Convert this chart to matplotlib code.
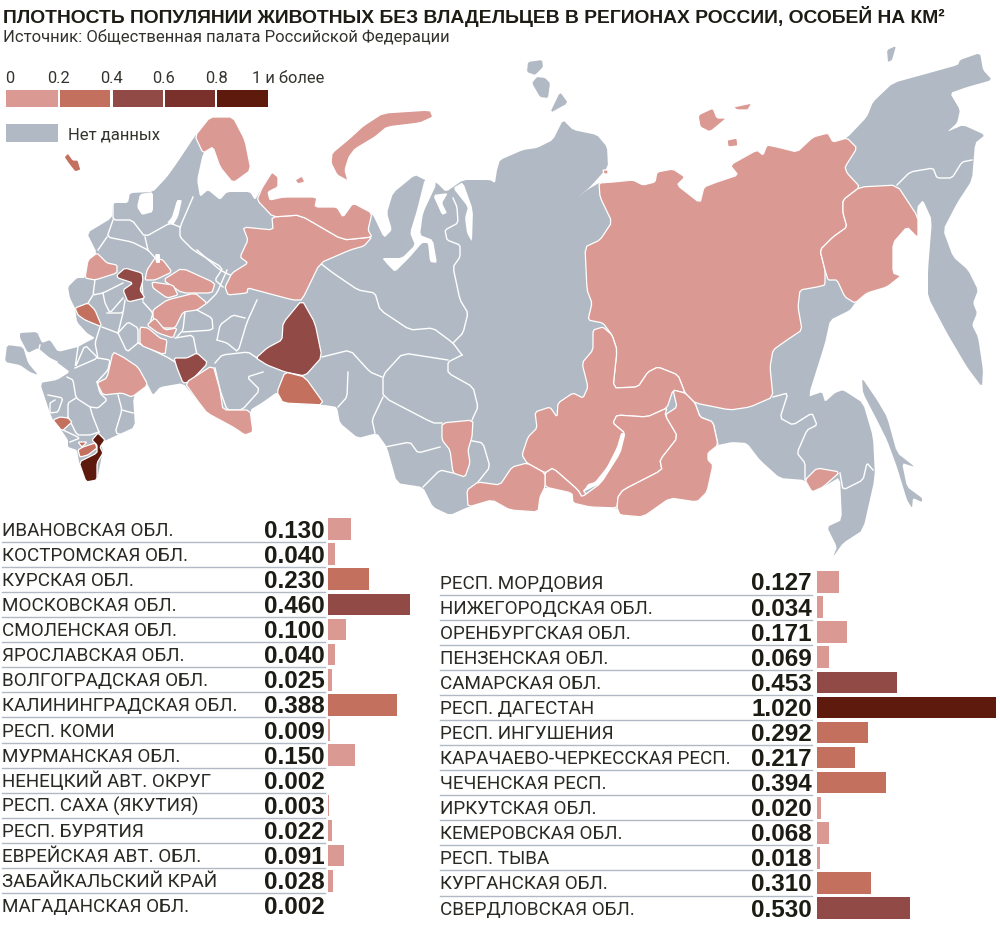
"""Плотность популяции животных без владельцев: карта регионов и две таблицы с барами."""
import matplotlib
matplotlib.use("Agg")
import matplotlib.pyplot as plt
from matplotlib.patches import Polygon

# ---- данные таблиц
LEFT_NAMES = ["ИВАНОВСКАЯ ОБЛ.", "КОСТРОМСКАЯ ОБЛ.", "КУРСКАЯ ОБЛ.", "МОСКОВСКАЯ ОБЛ.",
              "СМОЛЕНСКАЯ ОБЛ.", "ЯРОСЛАВСКАЯ ОБЛ.", "ВОЛГОГРАДСКАЯ ОБЛ.", "КАЛИНИНГРАДСКАЯ ОБЛ.",
              "РЕСП. КОМИ", "МУРМАНСКАЯ ОБЛ.", "НЕНЕЦКИЙ АВТ. ОКРУГ", "РЕСП. САХА (ЯКУТИЯ)",
              "РЕСП. БУРЯТИЯ", "ЕВРЕЙСКАЯ АВТ. ОБЛ.", "ЗАБАЙКАЛЬСКИЙ КРАЙ", "МАГАДАНСКАЯ ОБЛ."]
LEFT_VALUES = [0.130, 0.040, 0.230, 0.460, 0.100, 0.040, 0.025, 0.388,
               0.009, 0.150, 0.002, 0.003, 0.022, 0.091, 0.028, 0.002]
RIGHT_NAMES = ["РЕСП. МОРДОВИЯ", "НИЖЕГОРОДСКАЯ ОБЛ.", "ОРЕНБУРГСКАЯ ОБЛ.", "ПЕНЗЕНСКАЯ ОБЛ.",
               "САМАРСКАЯ ОБЛ.", "РЕСП. ДАГЕСТАН", "РЕСП. ИНГУШЕНИЯ", "КАРАЧАЕВО-ЧЕРКЕССКАЯ РЕСП.",
               "ЧЕЧЕНСКАЯ РЕСП.", "ИРКУТСКАЯ ОБЛ.", "КЕМЕРОВСКАЯ ОБЛ.", "РЕСП. ТЫВА",
               "КУРГАНСКАЯ ОБЛ.", "СВЕРДЛОВСКАЯ ОБЛ."]
RIGHT_VALUES = [0.127, 0.034, 0.171, 0.069, 0.453, 1.020, 0.292, 0.217,
                0.394, 0.020, 0.068, 0.018, 0.310, 0.530]

LEGEND_TICKS = ["0", "0.2", "0.4", "0.6", "0.8", "1 и более"]
CLASS_COLORS = ["#DA9A93", "#C4705F", "#924A47", "#7A302B", "#5F1A0E"]
NO_DATA = "#B1BAC4"

# ---- контуры карты
MAINLAND = [(195, 136), (210, 117), (233, 117), (245, 140), (251, 170), (233, 183), (220, 167), (213, 147),
            (203, 153), (197, 180), (200, 197), (208, 190), (220, 200), (227, 192), (250, 192), (255, 200),
            (262, 188), (272, 172), (278, 177), (278, 187), (268, 192), (270, 200), (283, 197), (317, 197),
            (315, 207), (337, 207), (343, 217), (353, 203), (372, 213), (384, 238), (392, 230), (387, 213),
            (393, 193), (415, 175), (425, 180), (437, 183), (446, 192), (463, 180), (490, 180), (495, 183),
            (497, 170), (500, 160), (523, 150), (537, 148), (553, 140), (563, 120), (573, 130), (597, 135),
            (607, 147), (608, 167), (590, 187), (577, 198), (587, 190), (599, 183), (613, 182), (633, 180),
            (643, 185), (655, 182), (657, 172), (673, 169), (685, 177), (677, 185), (700, 203), (704, 187),
            (717, 182), (738, 175), (730, 165), (757, 150), (763, 155), (767, 145), (777, 147), (797, 152),
            (813, 137), (828, 133), (833, 142), (847, 138), (867, 117), (873, 102), (893, 83), (933, 72),
            (958, 65), (960, 60), (980, 53), (983, 70), (992, 80), (967, 87), (950, 93), (960, 110),
            (957, 123), (947, 132), (963, 125), (985, 135), (975, 143), (972, 180), (957, 203), (943, 230),
            (953, 257), (968, 270), (978, 290), (973, 303), (977, 313), (972, 325), (978, 337), (983, 370),
            (982, 387), (967, 367), (947, 333), (928, 297), (928, 270), (932, 220), (923, 200), (917, 207),
            (918, 238), (907, 227), (893, 243), (893, 273), (901, 276), (887, 287), (867, 293), (855, 303),
            (850, 310), (830, 320), (825, 343), (808, 397), (822, 392), (825, 402), (835, 393), (843, 390),
            (863, 403), (873, 437), (875, 477), (863, 530), (843, 543), (833, 557), (837, 547), (827, 527),
            (842, 520), (840, 477), (823, 487), (812, 492), (805, 480), (780, 478), (760, 460), (747, 443),
            (732, 442), (718, 445), (708, 453), (708, 460), (713, 465), (707, 492), (697, 502), (670, 498),
            (643, 517), (620, 515), (617, 508), (590, 507), (573, 503), (572, 493), (545, 487), (540, 497),
            (538, 512), (510, 510), (492, 500), (468, 507), (450, 515), (433, 507), (423, 487), (397, 483),
            (387, 447), (377, 433), (358, 438), (340, 423), (337, 407), (325, 405), (283, 403), (277, 392),
            (263, 402), (250, 410), (253, 432), (245, 435), (233, 427), (207, 413), (197, 400), (183, 383),
            (160, 387), (153, 395), (147, 383), (133, 397), (135, 427), (113, 437), (100, 443), (103, 450),
            (97, 480), (86, 482), (79, 462), (77, 450), (68, 447), (68, 440), (62, 431), (53, 420),
            (50, 413), (40, 383), (57, 380), (70, 372), (58, 363), (50, 358), (38, 348), (28, 353),
            (20, 338), (20, 333), (37, 332), (42, 343), (50, 340), (58, 352), (78, 347), (85, 343),
            (95, 338), (87, 333), (77, 322), (75, 308), (70, 298), (68, 287), (77, 278), (85, 278),
            (88, 260), (97, 253), (87, 233), (112, 218), (113, 203), (128, 203), (130, 193), (153, 192),
            (167, 177), (177, 163)]
CRIMEA = [(7, 345), (23, 347), (28, 363), (38, 375), (30, 372), (20, 365), (5, 362)]
SAKHALIN = [(862, 378), (877, 400), (887, 417), (897, 453), (915, 467), (902, 463), (907, 487), (922, 498),
            (922, 502), (913, 498), (912, 508), (907, 500), (897, 467), (887, 440), (877, 420), (863, 393)]
SEV_ZEMLYA_1 = [(528, 62), (542, 60), (543, 67), (535, 75), (527, 72)]
SEV_ZEMLYA_2 = [(532, 83), (537, 77), (545, 78), (550, 83), (548, 98), (540, 97)]
SEV_ZEMLYA_3 = [(550, 113), (560, 92), (568, 103)]
WRANGEL = [(887, 50), (896, 46), (892, 60), (888, 62)]
GRAY_ISLANDS = [CRIMEA, SAKHALIN, SEV_ZEMLYA_1, SEV_ZEMLYA_2, SEV_ZEMLYA_3, WRANGEL]

# водоёмы поверх суши
OB_GULF = [(425, 178), (417, 210), (410, 233), (415, 245), (402, 258), (382, 258), (388, 265), (395, 272),
           (410, 257), (422, 243), (428, 243), (430, 262), (437, 263), (433, 240), (420, 235), (423, 213),
           (437, 183)]
TAZ_GULF = [(433, 195), (442, 215), (447, 213), (442, 203), (448, 193)]
YENISEI_GULF = [(453, 188), (468, 207), (465, 218), (467, 233), (472, 242), (473, 210), (463, 182)]
BAIKAL = [(583, 492), (601, 483), (620, 453), (625, 433), (621, 433), (617, 447), (607, 467), (595, 482), (588, 484)]
FINLAND_GULF = [(140, 194), (153, 192), (153, 212), (142, 215), (137, 207)]
LADOGA = [(167, 223), (172, 217), (177, 200), (182, 200), (178, 217), (173, 225)]
WATERS = [OB_GULF, TAZ_GULF, YENISEI_GULF, BAIKAL, FINLAND_GULF, LADOGA]

YAKUTIA = [(599, 183), (613, 182), (633, 180), (643, 185), (655, 182), (657, 172), (673, 169), (685, 177),
           (677, 185), (700, 203), (704, 187), (717, 182), (738, 175), (730, 165), (757, 150), (763, 155),
           (767, 145), (777, 147), (797, 152), (813, 137), (828, 133), (833, 142), (847, 138), (857, 148),
           (845, 167), (847, 173), (860, 187), (843, 200), (843, 213), (847, 227), (833, 237), (820, 250),
           (825, 270), (825, 285), (817, 287), (800, 290), (798, 307), (802, 330), (787, 340), (773, 350),
           (770, 367), (773, 397), (750, 407), (730, 410), (695, 403), (685, 393), (678, 375), (658, 367),
           (648, 372), (638, 387), (613, 388), (617, 350), (612, 335), (603, 323), (588, 320), (592, 303),
           (587, 290), (585, 247), (600, 240), (612, 222), (600, 197)]
YAKUTIA_ISLE_1 = [(698, 115), (713, 108), (717, 118), (727, 118), (710, 132), (700, 127)]
YAKUTIA_ISLE_2 = [(733, 107), (752, 103), (748, 110), (737, 110)]
YAKUTIA_ISLE_3 = [(727, 140), (737, 138), (738, 146), (728, 147)]
YAKUTIA_ISLE_4 = [(603, 170), (608, 170), (608, 174), (604, 174)]
MAGADAN = [(860, 187), (897, 185), (918, 217), (918, 238), (907, 227), (893, 243), (893, 273), (901, 276),
           (887, 287), (867, 293), (855, 303), (845, 297), (837, 280), (828, 280), (825, 270), (820, 250),
           (833, 237), (847, 227), (843, 213), (843, 200)]
IRKUTSK = [(603, 327), (593, 330), (593, 350), (582, 363), (588, 387), (583, 398), (573, 393), (558, 403),
           (557, 417), (550, 407), (535, 412), (537, 428), (528, 437), (522, 455), (527, 463), (545, 473),
           (553, 468), (578, 490), (582, 497), (588, 497), (583, 490), (601, 483), (620, 453), (625, 433),
           (613, 423), (617, 415), (647, 417), (667, 408), (673, 390), (685, 393), (678, 375), (658, 367),
           (648, 372), (638, 387), (613, 388), (617, 350), (612, 335)]
BURYATIA = [(613, 423), (617, 415), (647, 417), (667, 408), (665, 415), (678, 437), (660, 460), (662, 470),
            (623, 490), (618, 497), (617, 508), (590, 507), (573, 503), (572, 493), (545, 487), (545, 473),
            (553, 468), (578, 490), (582, 497), (601, 483), (620, 453), (625, 433)]
ZABAIKAL = [(673, 390), (685, 393), (695, 403), (700, 417), (713, 422), (718, 445), (708, 453), (708, 460),
            (713, 465), (707, 492), (697, 502), (670, 498), (643, 517), (620, 515), (617, 508), (618, 497),
            (623, 490), (662, 470), (660, 460), (678, 437), (665, 415), (677, 407)]
TYVA = [(467, 490), (478, 482), (500, 485), (512, 467), (527, 463), (545, 473), (545, 487), (540, 497),
        (538, 512), (510, 510), (492, 500), (468, 507)]
KEMEROVO = [(442, 423), (473, 420), (472, 437), (468, 450), (470, 463), (465, 477), (453, 473), (450, 450), (442, 440)]
JEWISH = [(805, 480), (817, 468), (840, 472), (823, 487), (812, 492)]
SVERDLOVSK = [(302, 300), (315, 323), (322, 357), (305, 376), (285, 372), (267, 365), (256, 358), (267, 348),
              (282, 340), (283, 323)]
KURGAN = [(285, 372), (305, 377), (325, 405), (283, 403), (277, 392)]
SAMARA = [(174, 358), (187, 358), (197, 353), (208, 363), (190, 382), (183, 383), (177, 368)]
ORENBURG = [(185, 383), (213, 365), (220, 390), (223, 410), (250, 410), (253, 432), (245, 435), (233, 427),
            (207, 413), (197, 400)]
KOMI = [(272, 217), (300, 215), (343, 240), (372, 237), (364, 246), (350, 250), (320, 263), (302, 300),
        (293, 300), (263, 292), (248, 288), (247, 293), (228, 295), (225, 287), (232, 273), (248, 263),
        (240, 257), (248, 240), (243, 227), (273, 230)]
NENETS = [(257, 200), (262, 188), (272, 172), (278, 177), (278, 187), (268, 192), (270, 200), (283, 197),
          (317, 197), (315, 207), (337, 207), (343, 217), (353, 203), (372, 213), (368, 230), (372, 237),
          (343, 240), (300, 215), (273, 217)]
NOVAYA_ZEMLYA = [(332, 153), (350, 138), (363, 126), (383, 113), (430, 110), (433, 117), (420, 123), (387, 127),
                 (375, 137), (355, 149), (349, 157), (345, 170), (348, 181), (337, 175), (331, 163)]
KOLGUEV = [(295, 180), (302, 176), (305, 182), (298, 184)]
MURMANSK = [(195, 136), (210, 117), (233, 117), (245, 140), (251, 170), (233, 183), (220, 167), (213, 147), (203, 153)]
SMOLENSK = [(85, 278), (88, 260), (97, 253), (107, 263), (117, 265), (117, 273), (95, 280)]
MOSCOW = [(117, 275), (125, 268), (142, 273), (143, 280), (140, 290), (145, 298), (128, 302), (123, 290),
          (133, 283), (118, 278)]
YAROSLAVL = [(145, 280), (147, 270), (155, 258), (163, 260), (172, 272), (155, 280)]
KOSTROMA = [(163, 280), (182, 268), (215, 283), (212, 293), (182, 293)]
IVANOVO = [(152, 282), (173, 285), (178, 295), (167, 298), (153, 288)]
NIZHNY = [(153, 310), (167, 300), (195, 293), (207, 303), (197, 310), (183, 312), (175, 328), (163, 328), (153, 318)]
MORDOVIA = [(147, 325), (155, 318), (165, 330), (177, 328), (173, 338), (158, 333)]
PENZA = [(140, 327), (148, 328), (160, 338), (167, 340), (165, 355), (140, 345)]
KURSK = [(75, 308), (88, 303), (95, 310), (102, 327), (85, 320), (78, 315)]
VOLGOGRAD = [(97, 383), (107, 378), (113, 352), (123, 357), (138, 367), (148, 385), (132, 397), (122, 393), (103, 395)]
KARACHAY = [(53, 420), (60, 417), (68, 418), (72, 422), (62, 431)]
CHECHNYA = [(78, 450), (83, 447), (95, 443), (97, 448), (88, 455), (80, 457)]
INGUSHETIA = [(78, 442), (87, 442), (82, 447)]
DAGESTAN = [(92, 440), (98, 433), (105, 440), (100, 447), (103, 453), (97, 463), (97, 480), (86, 482), (79, 462),
            (97, 453), (97, 445)]
KALININGRAD = [(64, 157), (68, 153), (73, 160), (78, 160), (81, 170), (75, 172), (68, 163)]

# регион -> контуры, цвет берётся из значения в таблице
REGIONS = [("РЕСП. САХА (ЯКУТИЯ)", [YAKUTIA, YAKUTIA_ISLE_1, YAKUTIA_ISLE_2, YAKUTIA_ISLE_3, YAKUTIA_ISLE_4]),
           ("МАГАДАНСКАЯ ОБЛ.", [MAGADAN]), ("ИРКУТСКАЯ ОБЛ.", [IRKUTSK]), ("РЕСП. БУРЯТИЯ", [BURYATIA]),
           ("ЗАБАЙКАЛЬСКИЙ КРАЙ", [ZABAIKAL]), ("РЕСП. ТЫВА", [TYVA]), ("КЕМЕРОВСКАЯ ОБЛ.", [KEMEROVO]),
           ("ЕВРЕЙСКАЯ АВТ. ОБЛ.", [JEWISH]), ("СВЕРДЛОВСКАЯ ОБЛ.", [SVERDLOVSK]), ("КУРГАНСКАЯ ОБЛ.", [KURGAN]),
           ("САМАРСКАЯ ОБЛ.", [SAMARA]), ("ОРЕНБУРГСКАЯ ОБЛ.", [ORENBURG]), ("РЕСП. КОМИ", [KOMI]),
           ("НЕНЕЦКИЙ АВТ. ОКРУГ", [NENETS, NOVAYA_ZEMLYA, KOLGUEV]), ("МУРМАНСКАЯ ОБЛ.", [MURMANSK]),
           ("СМОЛЕНСКАЯ ОБЛ.", [SMOLENSK]), ("МОСКОВСКАЯ ОБЛ.", [MOSCOW]), ("ЯРОСЛАВСКАЯ ОБЛ.", [YAROSLAVL]),
           ("КОСТРОМСКАЯ ОБЛ.", [KOSTROMA]), ("ИВАНОВСКАЯ ОБЛ.", [IVANOVO]), ("НИЖЕГОРОДСКАЯ ОБЛ.", [NIZHNY]),
           ("РЕСП. МОРДОВИЯ", [MORDOVIA]), ("ПЕНЗЕНСКАЯ ОБЛ.", [PENZA]), ("КУРСКАЯ ОБЛ.", [KURSK]),
           ("ВОЛГОГРАДСКАЯ ОБЛ.", [VOLGOGRAD]), ("КАРАЧАЕВО-ЧЕРКЕССКАЯ РЕСП.", [KARACHAY]),
           ("ЧЕЧЕНСКАЯ РЕСП.", [CHECHNYA]), ("РЕСП. ИНГУШЕНИЯ", [INGUSHETIA]), ("РЕСП. ДАГЕСТАН", [DAGESTAN]),
           ("КАЛИНИНГРАДСКАЯ ОБЛ.", [KALININGRAD])]

# внутренние границы серых регионов
BORDERS = [
    [(193, 197), (180, 227), (180, 237), (193, 250), (223, 268), (215, 280), (223, 287)],
    [(113, 203), (113, 220), (132, 220), (145, 237), (170, 223), (180, 227)],
    [(113, 220), (107, 237), (132, 242), (148, 250), (157, 260)],
    [(145, 237), (148, 250)], [(107, 237), (98, 250)],
    [(95, 280), (93, 295), (103, 293), (123, 283)],
    [(103, 293), (105, 303), (110, 313), (123, 298)], [(93, 295), (88, 303)],
    [(107, 313), (123, 313), (125, 300)], [(143, 302), (153, 313), (150, 323)],
    [(123, 313), (118, 333)], [(102, 327), (118, 333)], [(142, 280), (143, 300)],
    [(100, 327), (95, 343), (98, 358), (75, 368)], [(118, 333), (127, 352), (138, 343)],
    [(118, 333), (128, 322), (138, 328), (138, 343)], [(40, 345), (38, 353), (57, 362)],
    [(78, 347), (75, 368), (85, 345), (98, 358)],
    [(98, 358), (110, 360), (108, 370), (97, 382)],
    [(67, 377), (73, 380), (76, 398), (90, 407), (98, 408), (107, 400), (100, 393), (97, 382)],
    [(76, 398), (68, 403), (68, 417)], [(90, 407), (93, 417), (99, 432)],
    [(118, 395), (122, 410), (115, 433), (132, 437)], [(122, 410), (133, 413)],
    [(68, 417), (77, 435), (90, 435), (99, 432)],
    [(48, 395), (63, 398), (58, 412), (50, 413), (50, 403), (55, 400)],
    [(63, 430), (80, 438), (70, 442)],
    [(138, 343), (167, 357), (175, 362)], [(175, 338), (193, 335), (197, 355)],
    [(185, 312), (183, 330), (177, 337)], [(217, 340), (227, 343), (238, 352), (247, 322), (257, 300)],
    [(217, 340), (220, 325), (233, 315), (245, 318)], [(197, 310), (212, 318), (213, 330), (183, 332)],
    [(215, 363), (222, 355), (248, 352), (257, 358)],
    [(215, 368), (220, 390), (227, 410), (242, 410), (260, 390), (247, 377), (263, 372)],
    [(207, 303), (217, 293), (227, 270)], [(230, 275), (220, 270), (197, 250)],
    [(320, 263), (333, 273), (358, 290), (375, 293), (380, 310), (410, 330), (433, 328), (453, 343), (462, 355)],
    [(453, 198), (457, 207), (458, 223), (445, 230), (447, 240), (460, 245), (460, 257), (453, 267), (460, 300),
     (468, 313), (463, 333), (453, 343)],
    [(462, 355), (448, 362), (448, 373), (473, 387), (478, 407), (472, 420)],
    [(468, 440), (483, 443), (490, 467), (478, 482)],
    [(448, 360), (403, 353), (383, 375), (383, 397), (433, 423), (442, 423)],
    [(322, 357), (350, 350), (370, 372), (382, 377)], [(348, 372), (347, 397), (338, 407)],
    [(383, 397), (372, 420), (375, 433)], [(385, 447), (410, 442), (418, 453), (440, 447)],
    [(453, 473), (440, 470), (423, 487)],
    [(773, 397), (788, 393), (780, 418), (793, 425), (812, 413), (817, 425), (807, 430), (797, 453), (805, 463), (805, 480)],
    [(695, 403), (700, 417), (713, 422), (718, 445)],
    [(897, 185), (910, 172), (933, 168), (937, 178), (952, 178), (962, 162), (972, 160)],
    [(840, 473), (843, 490), (863, 480), (867, 463), (873, 470)],
]

SMALL_LAKE = [(155, 254), (160, 254), (160, 263), (156, 263)]

W, H = 1000, 927
fig = plt.figure(figsize=(W / 100, H / 100), dpi=100, facecolor="white")
ax = fig.add_axes([0, 0, 1, 1])
ax.set_xlim(0, W)
ax.set_ylim(H, 0)
ax.axis("off")

TEXT = "#1d1c14"
HEAVY = ["Liberation Sans", "DejaVu Sans"]
BODY = ["Roboto", "DejaVu Sans"]
CUT = 0.12  # доля срезаемого угла


def class_color(value):
    return CLASS_COLORS[min(int(value / 0.2), 4)]


def soften(points, closed=True):
    """Немного срезает углы контура, чтобы границы не выглядели рублеными."""
    out = [] if closed else [points[0]]
    pairs = list(zip(points, points[1:] + points[:1])) if closed else list(zip(points, points[1:]))
    for (x0, y0), (x1, y1) in pairs:
        out.append(((1 - CUT) * x0 + CUT * x1, (1 - CUT) * y0 + CUT * y1))
        out.append((CUT * x0 + (1 - CUT) * x1, CUT * y0 + (1 - CUT) * y1))
    if not closed:
        out.append(points[-1])
    return out


all_values = dict(zip(LEFT_NAMES + RIGHT_NAMES, LEFT_VALUES + RIGHT_VALUES))

# ---- карта
ax.add_patch(Polygon(soften(MAINLAND), closed=True, facecolor=NO_DATA, edgecolor="none", zorder=1))
for island in GRAY_ISLANDS:
    ax.add_patch(Polygon(soften(island), closed=True, facecolor=NO_DATA, edgecolor="none", zorder=1))
for line in BORDERS:
    xs, ys = zip(*soften(line, closed=False))
    ax.plot(xs, ys, color="white", lw=1.0, zorder=2, solid_joinstyle="round")
for name, shapes in REGIONS:
    for shape in shapes:
        ax.add_patch(Polygon(soften(shape), closed=True, facecolor=class_color(all_values[name]),
                             edgecolor="white", lw=0.9, zorder=3))
for water in WATERS + [SMALL_LAKE]:
    ax.add_patch(Polygon(soften(water), closed=True, facecolor="white", edgecolor="none", zorder=4))

# ---- заголовок
ax.text(3, 22.5, "ПЛОТНОСТЬ ПОПУЛЯНИИ ЖИВОТНЫХ БЕЗ ВЛАДЕЛЬЦЕВ В РЕГИОНАХ РОССИИ, ОСОБЕЙ НА КМ²",
        family=HEAVY, weight="bold", fontsize=13.85, color=TEXT, va="baseline")
ax.text(3, 42, "Источник: Общественная палата Российской Федерации",
        family=BODY, fontsize=12, color="#33332e", va="baseline")

# ---- легенда
swatch_left = [6, 60, 113, 165, 217]
swatch_right = [58, 110, 163, 215, 268]
tick_x = [5, 47, 100, 152, 205, 252]
for x0, x1, color in zip(swatch_left, swatch_right, CLASS_COLORS):
    ax.fill_between([x0, x1], 90, 107, color=color, lw=0)
for x, label in zip(tick_x, LEGEND_TICKS):
    ax.text(x, 83, label, family=BODY, fontsize=11.9, color="#33332e", va="baseline")
ax.fill_between([6, 58], 124, 142, color=NO_DATA, lw=0)
ax.text(68, 139, "Нет данных", family=BODY, fontsize=12, color="#33332e", va="baseline")


def draw_table(names, values, label_x, rule_end, zero_x, scale, first_y, step):
    """Таблица: подпись, число и бар; ось в единицах плотности и номерах строк."""
    n = len(names)
    top = first_y - step / 2
    bar_ax = fig.add_axes([zero_x / W, 1 - (top + n * step) / H, (W - zero_x) / W, n * step / H])
    bar_ax.set_xlim(0, (W - zero_x) / scale)
    bar_ax.set_ylim(n - 0.5, -0.5)
    bar_ax.axis("off")
    bar_ax.barh(range(n), values, height=0.86, color=[class_color(v) for v in values], lw=0)
    for i, (name, value) in enumerate(zip(names, values)):
        y = first_y + i * step
        ax.text(label_x, y + 6.5, name, family=BODY, fontsize=13.6, color="#2a2a24", va="baseline")
        ax.text(rule_end, y + 8.5, f"{value:.3f}", family=HEAVY, weight="bold", fontsize=17.5,
                color=TEXT, ha="right", va="baseline")
        if i < n - 1:
            ax.plot([label_x, rule_end], [y + step / 2] * 2, color="#B1BAC4", lw=1.0)


draw_table(LEFT_NAMES, LEFT_VALUES, 2, 325, 328, 178, 529, 25.13)
draw_table(RIGHT_NAMES, RIGHT_VALUES, 440, 812, 817, 175.5, 582, 25.08)

fig.savefig("out.png", dpi=100, facecolor="white")
